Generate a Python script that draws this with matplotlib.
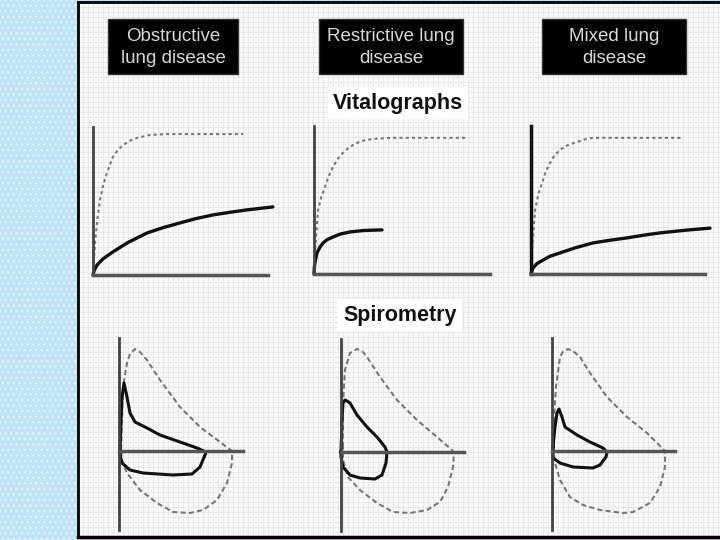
import matplotlib
matplotlib.use("Agg")
import matplotlib.pyplot as plt
from matplotlib.patches import Rectangle
import numpy as np

W, H = 720, 540

# panel headings
headers = ["Obstructive\nlung disease", "Restrictive lung\ndisease", "Mixed lung\ndisease"]
section_titles = ["Vitalographs", "Spirometry"]

# vitalographs: time (s) vs volume (L)
normal_t = [[0, 0.03, 0.07, 0.15, 0.24, 0.35, 0.48, 0.68, 0.85, 1.03, 1.25, 1.5, 1.95, 2.5, 5.14],
            [0, 0.05, 0.14, 0.25, 0.38, 0.5, 0.65, 0.8, 0.99, 1.2, 1.47, 1.7, 2.0, 2.6, 5.17],
            [0, 0.05, 0.14, 0.25, 0.38, 0.5, 0.65, 0.8, 0.99, 1.25, 1.58, 1.85, 2.12, 5.17]]
normal_v = [[0, 0.5, 1.08, 1.9, 2.53, 3.05, 3.45, 3.99, 4.22, 4.39, 4.53, 4.63, 4.73, 4.76, 4.76],
            [0, 1.0, 2.16, 2.6, 2.94, 3.3, 3.61, 3.87, 4.09, 4.28, 4.43, 4.51, 4.56, 4.6, 4.6],
            [0, 1.0, 2.16, 2.7, 3.07, 3.45, 3.75, 4.0, 4.19, 4.35, 4.46, 4.55, 4.6, 4.6]]
disease_t = [[0, 0.04, 0.14, 0.35, 0.68, 1.2, 1.85, 2.4, 2.98, 3.5, 4.11, 4.7, 5.27, 6.16],
             [0, 0.01, 0.03, 0.1, 0.2, 0.31, 0.45, 0.65, 0.9, 1.23, 1.7, 2.33],
             [0, 0.03, 0.07, 0.2, 0.41, 0.65, 0.99, 1.5, 2.12, 2.7, 3.29, 3.85, 4.42, 5.3, 6.13]]
disease_v = [[0, 0.15, 0.34, 0.55, 0.78, 1.1, 1.42, 1.6, 1.76, 1.9, 2.03, 2.12, 2.2, 2.3],
             [0, 0.2, 0.37, 0.71, 0.9, 1.05, 1.16, 1.25, 1.35, 1.42, 1.47, 1.49],
             [0, 0.1, 0.2, 0.35, 0.47, 0.6, 0.71, 0.88, 1.05, 1.14, 1.22, 1.31, 1.39, 1.48, 1.55]]

# spirometry: volume (L) vs flow (L/s), closed loops
normal_vol = [[0.1, 0.15, 0.2, 0.4, 0.55, 0.8, 1.05, 1.4, 2.05, 3.05, 4.05, 5.05, 5.65, 5.65, 5.4, 4.9, 4.2, 3.55, 2.7, 1.9, 1.05, 0.4, 0.15, 0.1],
              [0.1, 0.1, 0.2, 0.45, 0.8, 1.05, 1.3, 1.95, 2.8, 3.8, 4.8, 5.55, 5.65, 5.6, 5.35, 4.95, 4.3, 3.45, 2.6, 1.8, 0.95, 0.35, 0.1, 0.1],
              [0.05, 0.1, 0.2, 0.4, 0.55, 0.8, 1.05, 1.4, 1.9, 2.75, 3.75, 4.75, 5.65, 5.65, 5.4, 4.9, 4.05, 3.55, 2.4, 1.55, 0.9, 0.4, 0.15, 0.05]]
normal_flow = [[0.1, 3.1, 6.4, 8.8, 9.7, 10.2, 9.9, 9.1, 7.1, 4.4, 2.4, 0.9, 0, -1.2, -3.2, -4.9, -5.9, -6.2, -6.1, -5.2, -3.9, -2.2, -0.9, 0.1],
               [0.5, 4.9, 8.2, 9.9, 10.3, 10.1, 9.5, 7.5, 5.2, 3.2, 1.5, 0.2, -0.1, -1.5, -3.5, -5.0, -5.8, -6.1, -6.0, -5.1, -3.8, -2.5, -0.8, 0.5],
               [0.4, 3.1, 6.4, 9.4, 9.95, 10.2, 10.0, 9.4, 7.8, 5.4, 3.4, 1.8, 0, -1.6, -3.6, -5.2, -6.1, -6.2, -5.9, -5.4, -4.6, -2.9, -1.2, 0.4]]
disease_vol = [[0.05, 0.1, 0.15, 0.25, 0.4, 0.55, 0.8, 1.4, 2.05, 3.05, 3.9, 4.35, 4.3, 4.05, 3.65, 2.7, 1.2, 0.55, 0.15, 0.05, 0.05],
               [0, 0.05, 0.1, 0.2, 0.3, 0.45, 0.8, 1.3, 1.8, 2.2, 2.3, 2.25, 2.05, 1.7, 0.95, 0.45, 0.1, 0, 0],
               [0.05, 0.15, 0.25, 0.35, 0.5, 0.65, 1.25, 1.9, 2.55, 2.75, 2.7, 2.4, 2.05, 1.05, 0.4, 0.05, 0.05]]
disease_flow = [[0, 3.1, 5.4, 6.8, 5.4, 3.8, 2.9, 2.3, 1.6, 0.9, 0.3, -0.1, -0.4, -1.6, -2.3, -2.4, -2.2, -1.9, -1.2, -0.4, 0],
                [0, 3.2, 4.9, 5.2, 5.1, 4.9, 3.7, 2.5, 1.5, 0.5, 0, -1.1, -2.3, -2.7, -2.6, -2.3, -1.5, -0.5, 0],
                [0.4, 2.4, 3.8, 4.2, 3.4, 2.4, 1.6, 0.9, 0.3, -0.1, -0.6, -1.4, -1.7, -1.6, -1.2, -0.7, 0.4]]

plt.rcParams['font.family'] = ['Liberation Sans', 'DejaVu Sans']
plt.rcParams['hatch.linewidth'] = 1.0


def place(fig, ox, oy, sx, sy, xlim, ylim):
    # axes whose data origin sits at pixel (ox, oy)
    left = ox + xlim[0] * sx
    right = ox + xlim[1] * sx
    top = oy - ylim[1] * sy
    bottom = oy - ylim[0] * sy
    ax = fig.add_axes([left / W, 1 - bottom / H, (right - left) / W, (bottom - top) / H])
    ax.set_xlim(*xlim)
    ax.set_ylim(*ylim)
    ax.patch.set_alpha(0)
    ax.set_xticks([])
    ax.set_yticks([])
    for s in ['top', 'right']:
        ax.spines[s].set_visible(False)
    return ax


fig = plt.figure(figsize=(7.2, 5.4), dpi=100, facecolor='#bde3f5')

# background: blue dotted strip + grid paper
bg = fig.add_axes([0, 0, 1, 1])
bg.set_xlim(0, W)
bg.set_ylim(H, 0)
bg.axis('off')
bg.add_patch(Rectangle((0, 0), 77, H, facecolor='#bde4f6', edgecolor='#e8f6fc', hatch='...', lw=0))

paper = fig.add_axes([78 / W, 3 / H, (W - 78) / W, (H - 5) / H])
paper.set_facecolor('#fafafa')
paper.set_xlim(0, W - 78)
paper.set_ylim(H - 5, 0)
paper.set_xticks(np.arange(0, W - 78, 5))
paper.set_yticks(np.arange(0, H, 5))
paper.tick_params(length=0, labelbottom=False, labelleft=False)
paper.grid(True, color='#e8e8e8', lw=0.7)
for s in paper.spines.values():
    s.set_visible(False)
paper.spines['left'].set_visible(True)
paper.spines['left'].set_linewidth(2)
paper.spines['top'].set_visible(True)
paper.spines['top'].set_linewidth(2)
paper.spines['bottom'].set_visible(True)
paper.spines['bottom'].set_linewidth(2.5)

top = fig.add_axes([0, 0, 1, 1])
top.set_xlim(0, W)
top.set_ylim(H, 0)
top.axis('off')

box_x = [(108, 238), (319, 463), (542, 686)]
for (x0, x1), label in zip(box_x, headers):
    top.add_patch(Rectangle((x0, 19), x1 - x0, 55, facecolor='black', edgecolor='#333333', lw=1))
    top.text((x0 + x1) / 2, 47.5, label, color='#d8d8d8', fontsize=13.5, ha='center', va='center',
             linespacing=1.4)

top.text(398, 103, section_titles[0], fontsize=15.5, fontweight='bold', color='#111111',
         ha='center', va='center',
         bbox=dict(boxstyle='square,pad=0.25', fc='white', ec='none'))
top.text(400, 315, section_titles[1], fontsize=15.5, fontweight='bold', color='#111111',
         ha='center', va='center',
         bbox=dict(boxstyle='square,pad=0.25', fc='white', ec='none'))

# vitalographs
vit_origin = [(93, 275), (314, 274), (531, 274)]
vit_xend = [6.0, 6.03, 5.96]
for i, (ox, oy) in enumerate(vit_origin):
    ax = place(fig, ox, oy, 29.2, 29.6, (-0.1, 6.4), (-0.1, 5.05))
    ax.spines['left'].set_bounds(0, 5.0)
    ax.spines['bottom'].set_bounds(0, vit_xend[i])
    ax.spines['left'].set_color('#111111' if i == 2 else '#444444')
    ax.spines['left'].set_linewidth(2.5 if i == 2 else 2)
    ax.spines['bottom'].set_color('#555555')
    ax.spines['bottom'].set_linewidth(2.5)
    ax.spines['left'].set_position(('data', 0))
    ax.spines['bottom'].set_position(('data', 0))
    ax.plot(normal_t[i], normal_v[i], color='#777777', lw=1.5, dashes=(1.5, 1.5))
    ax.plot(disease_t[i], disease_v[i], color='#111111', lw=2.4, solid_capstyle='round',
            solid_joinstyle='round')

# spirometry flow-volume loops
spi_origin = [(119, 451), (341, 452), (552, 451)]
spi_xend = [6.2, 6.15, 6.15]
for i, (ox, oy) in enumerate(spi_origin):
    ax = place(fig, ox, oy, 20, 10, (-0.2, 6.4), (-8.0, 11.4))
    ax.spines['left'].set_bounds(-7.9, 11.3)
    ax.spines['bottom'].set_bounds(0, spi_xend[i])
    ax.spines['left'].set_position(('data', 0))
    ax.spines['bottom'].set_position(('data', 0))
    ax.spines['left'].set_color('#444444')
    ax.spines['left'].set_linewidth(2)
    ax.spines['bottom'].set_color('#555555')
    ax.spines['bottom'].set_linewidth(2.5)
    ax.plot(normal_vol[i], normal_flow[i], color='#777777', lw=1.5, dashes=(2.5, 1.5))
    ax.plot(disease_vol[i], disease_flow[i], color='#111111', lw=2.2, solid_joinstyle='round')

fig.savefig('out.png', dpi=100, facecolor=fig.get_facecolor())
